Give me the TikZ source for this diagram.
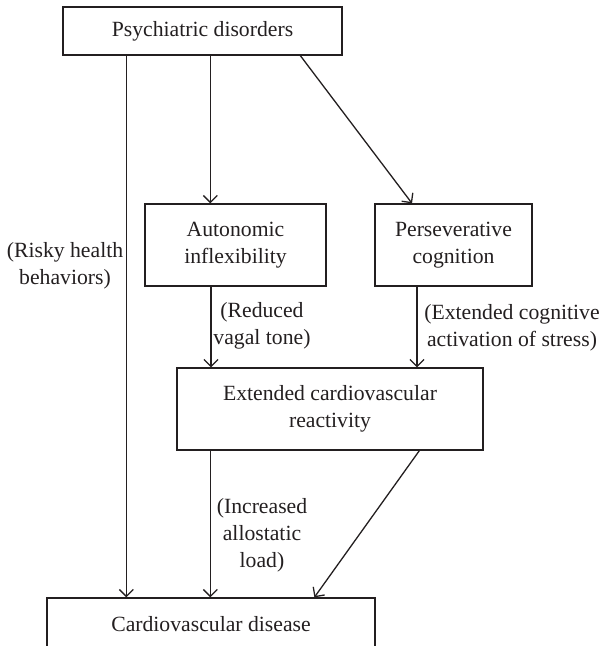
\documentclass[tikz,border=0pt]{standalone}
\usepackage{fontspec}
\setmainfont{Liberation Serif}
\usetikzlibrary{arrows.meta}
\definecolor{ink}{HTML}{231F20}
\begin{document}
\begin{tikzpicture}[x=1pt,y=-1pt,
  txt/.style={text=ink, font=\fontsize{21.7}{27}\selectfont, align=center},
  box/.style={txt, draw=ink, line width=1.3pt, rectangle, inner sep=0pt},
  lbl/.style={txt, inner sep=0pt},
  arr/.style={draw=ink, line width=1.3pt, -{Straight Barb[length=7pt,width=14pt,line width=1.3pt]}},
  ln/.style={draw=ink, line width=1.3pt}]
\useasboundingbox (0,0) rectangle (602,646);
% boxes
\node[box, minimum width=279pt, minimum height=48pt] (psych) at (202.5,31) {Psychiatric disorders};
\node[box, minimum width=181pt, minimum height=82pt] (auto) at (235.5,245) {Autonomic\\inflexibility};
\node[box, minimum width=157pt, minimum height=82pt] (pers) at (453.5,245) {Perseverative\\cognition};
\node[box, minimum width=306pt, minimum height=82pt] (ext) at (330,409) {Extended cardiovascular\\reactivity};
\node[box, minimum width=328pt, minimum height=52pt] (cvd) at (211,624) {Cardiovascular disease};
% labels
\node[lbl] (risky) at (65,266) {(Risky health\\behaviors)};
\node[lbl] (vagal) at (262,326) {(Reduced\\vagal tone)};
\node[lbl] (cogn) at (512,328) {(Extended cognitive\\activation of stress)};
\node[lbl] (allo) at (262,535) {(Increased\\allostatic\\load)};
% connectors
\coordinate (pL) at ([xshift=64pt]psych.south west);
\coordinate (pM) at ([xshift=148pt]psych.south west);
\coordinate (pR) at ([xshift=238pt]psych.south west);
\draw[arr] (pL) -- (pL |- cvd.north);
\draw[arr] (pM) -- (pM |- auto.north);
\draw[arr] (pR) -- ([xshift=-41.5pt]pers.north);
\coordinate (aS) at ([xshift=-24.5pt]auto.south);
\draw[arr] (aS) -- (aS |- ext.north);
\coordinate (cS) at ([xshift=-36.5pt]pers.south);
\draw[arr] (cS) -- (cS |- ext.north);
\coordinate (eM) at ([xshift=34pt]ext.south west);
\draw[arr] (eM) -- (eM |- cvd.north);
\draw[arr] ([xshift=243pt]ext.south west) -- ([xshift=268pt]cvd.north west);
\end{tikzpicture}
\end{document}
